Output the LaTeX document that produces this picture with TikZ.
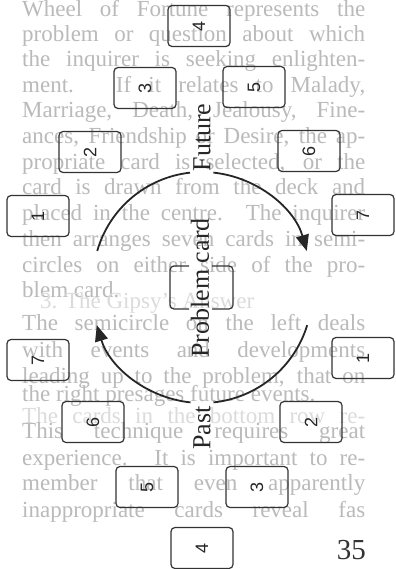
\documentclass[tikz,border=0pt]{standalone}
\usepackage{fontspec}
\setmainfont{Liberation Serif}
\newfontfamily\digitfont{Liberation Sans}
\usetikzlibrary{arrows.meta}
\begin{document}
\begin{tikzpicture}[x=1bp,y=-1bp,
  card/.style={draw=black!80, line width=1.2bp, rounded corners=4bp, minimum width=62bp, minimum height=41bp, inner sep=0pt, font=\digitfont\fontsize{18bp}{18bp}\selectfont, text=black!85},
  cardline/.style={draw=black!80, line width=1.2bp, rounded corners=4bp},
  ghost/.style={anchor=base west, inner sep=0pt, text=black!27, font=\fontsize{23bp}{26bp}\selectfont},
  faint/.style={ghost, text=black!14},
  lbl/.style={inner sep=0pt, font=\fontsize{26bp}{26bp}\selectfont, text=black!85},
  arcline/.style={line width=1.8bp, draw=black!85},
  tip/.style={-{Triangle[length=16bp,width=13bp]}}
]
\fill[white] (0,0) rectangle (395,569);
\useasboundingbox (0,0) rectangle (395,569);

% faint page text
\node[ghost] (g1) at (22,17) {\makebox[343bp][s]{Wheel of Fortune represents the}};
\node[ghost] (g2) at (22,41.5) {\makebox[343bp][s]{problem or question about which}};
\node[ghost] (g3) at (22,67) {\makebox[343bp][s]{the inquirer is seeking enlighten-}};
\node[ghost] (g4) at (22,92.5) {\makebox[343bp][s]{ment. If it relates to Malady,}};
\node[ghost] (g5) at (22,118) {\makebox[343bp][s]{Marriage, Death, Jealousy, Fine-}};
\node[ghost] (g6) at (22,143.5) {\makebox[343bp][s]{ances, Friendship or Desire, the ap-}};
\node[ghost] (g7) at (22,169.2) {\makebox[343bp][s]{propriate card is selected, or the}};
\node[ghost] (g8) at (22,194.9) {\makebox[343bp][s]{card is drawn from the deck and}};
\node[ghost] (g9) at (22,220.6) {\makebox[343bp][s]{placed in the centre. The inquirer}};
\node[ghost] (g10) at (22,246.3) {\makebox[343bp][s]{then arranges seven cards in semi-}};
\node[ghost] (g11) at (22,272) {\makebox[343bp][s]{circles on either side of the pro-}};
\node[ghost] (g12) at (22,297.7) {blem card.};
\node[faint] (f1) at (40,308) {3. The Gipsy's Answer};
\node[ghost] (g13) at (22,330) {\makebox[343bp][s]{The semicircle on the left deals}};
\node[ghost] (g14) at (22,357) {\makebox[343bp][s]{with events and developments}};
\node[ghost] (g15) at (22,383) {\makebox[343bp][s]{leading up to the problem, that on}};
\node[ghost] (g16) at (22,401) {the right presages future events.};
\node[faint] (f2) at (22,423) {\makebox[343bp][s]{The cards in the bottom row re-}};
\node[ghost] (g17) at (22,438) {\makebox[343bp][s]{This technique requires great}};
\node[ghost] (g18) at (22,465) {\makebox[343bp][s]{experience. It is important to re-}};
\node[ghost] (g19) at (22,490) {\makebox[343bp][s]{member that even apparently}};
\node[ghost] (g20) at (22,517) {\makebox[343bp][s]{inappropriate cards reveal fas}};

% upper (future) semicircle of cards
\node[card] (u1) at (38,216) {\rotatebox{90}{1}};
\node[card] (u2) at (90,152) {\rotatebox{90}{2}};
\node[card] (u3) at (145,88) {\rotatebox{90}{3}};
\node[card] (u4) at (199,26) {\rotatebox{90}{4}};
\node[card] (u5) at (254,87) {\rotatebox{90}{5}};
\node[card] (u6) at (309,151) {\rotatebox{90}{6}};
\node[card] (u7) at (363,215) {\rotatebox{90}{7}};

% lower (past) semicircle of cards
\node[card] (l7) at (38,360) {\rotatebox{90}{7}};
\node[card] (l6) at (93,422) {\rotatebox{90}{6}};
\node[card] (l5) at (147,487) {\rotatebox{90}{5}};
\node[card] (l4) at (202,548) {\rotatebox{90}{4}};
\node[card] (l3) at (257,487) {\rotatebox{90}{3}};
\node[card] (l2) at (311,422) {\rotatebox{90}{2}};
\node[card] (l1) at (363,358) {\rotatebox{90}{1}};

% problem card box, broken where the label crosses it
\begin{scope}
  \clip (0,0) rectangle (189,569);
  \draw[cardline] (170,266) rectangle (233,309);
\end{scope}
\begin{scope}
  \clip (212,0) rectangle (395,569);
  \draw[cardline] (170,266) rectangle (233,309);
\end{scope}

% arcs
\coordinate (cu) at (202,281);
\coordinate (cl) at (202,293);
\draw[arcline] ([shift={(-164:109)}]cu) arc[start angle=-164, end angle=-96.3, radius=109];
\draw[arcline, tip] ([shift={(-84:109)}]cu) arc[start angle=-84, end angle=-16, radius=109];
\draw[arcline] ([shift={(17:110)}]cl) arc[start angle=17, end angle=84, radius=110];
\draw[arcline, tip] ([shift={(96:110)}]cl) arc[start angle=96, end angle=163, radius=110];

% labels
\node[lbl] (fut) at (202,137.5) {\rotatebox{90}{Future}};
\node[lbl] (prob) at (200,288) {\rotatebox{90}{Problem card}};
\node[lbl] (past) at (202,428) {\rotatebox{90}{Past}};

% page number
\node[anchor=base east, inner sep=0pt, font=\fontsize{29bp}{29bp}\selectfont, text=black!80] (pg) at (366,559) {35};
\end{tikzpicture}
\end{document}
